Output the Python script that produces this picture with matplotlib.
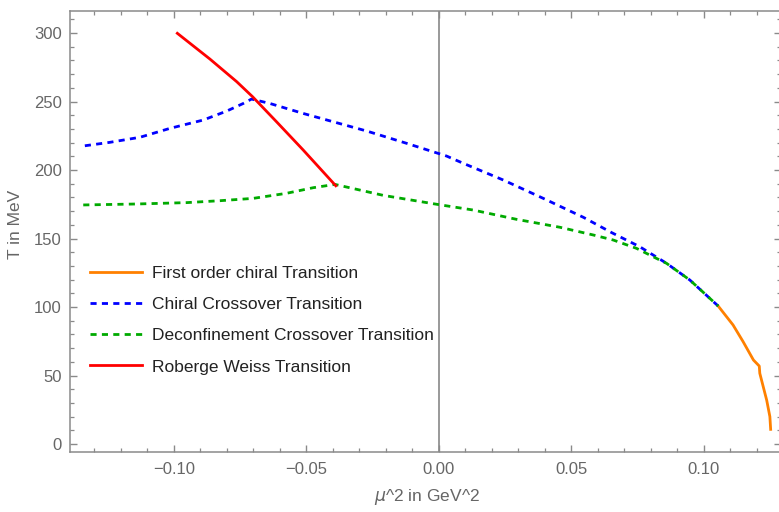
import numpy as np
import matplotlib
matplotlib.use('Agg')
import matplotlib.pyplot as plt
from matplotlib.ticker import MultipleLocator, FuncFormatter

plt.rcParams['font.family'] = ['Liberation Sans', 'DejaVu Sans']

# data (mu^2 in GeV^2, T in MeV)
first_x = [0.1054, 0.111, 0.1148, 0.1187, 0.1209, 0.1211, 0.1237, 0.1249, 0.1252]
first_T = [100.7, 86.9, 74.7, 61.3, 56.9, 51.6, 32.0, 20.0, 10.7]

chiral_x = [-0.1336, -0.1242, -0.1128, -0.1015, -0.0889, -0.0801, -0.0738, -0.0707, -0.0638,
            -0.0512, -0.0348, -0.0273, -0.0122, 0.0029, 0.0092, 0.0243, 0.0394, 0.0545,
            0.0652, 0.0758, 0.0859, 0.0947, 0.1054]
chiral_T = [217.7, 220.2, 223.9, 230.4, 236.5, 243, 248.6, 251.8, 248.6,
            241.3, 232.5, 228.5, 219.5, 210.2, 204.9, 192.7, 179.3, 165.5,
            154.3, 144, 131.9, 119.7, 100.7]

deconf_x = [-0.1342, -0.1141, -0.0952, -0.0826, -0.0701, -0.0575, -0.0474, -0.0392, -0.021,
            -0.0015, 0.0129, 0.0293, 0.0457, 0.0582, 0.0658, 0.0746, 0.0821, 0.0859,
            0.0947, 0.1054]
deconf_T = [174.5, 175.2, 176.2, 177.6, 179.3, 183, 187.1, 189.5, 181.5,
            175.2, 170.8, 164, 158.2, 152.6, 148.9, 142.8, 135.5, 131.9,
            119.7, 100.7]

rw_x = [-0.0987, -0.0864, -0.0763, -0.0703, -0.0613, -0.0512, -0.0389]
rw_T = [299.8, 281.0, 264.5, 253.5, 235.3, 214.6, 188.5]

labels = ["First order chiral Transition", "Chiral Crossover Transition",
          "Deconfinement Crossover Transition", "Roberge Weiss Transition"]

W, H = 779, 512
fig = plt.figure(figsize=(W/100, H/100), dpi=100)
ax = fig.add_axes([70/W, (H-452)/H, (781-70)/W, (452-10.7)/H])

gray = '#8a8a8a'
tcol = '#666666'

ax.axvline(0, color='#999999', lw=1.4, zorder=1)

ax.plot(first_x, first_T, color='#ff8000', lw=2, label=labels[0], zorder=3)
ax.plot(chiral_x, chiral_T, color='#0000ff', lw=2, dashes=(2.2, 1.9), label=labels[1], zorder=3)
ax.plot(deconf_x, deconf_T, color='#00aa00', lw=2, dashes=(2.2, 1.9), label=labels[2], zorder=3)
ax.plot(rw_x, rw_T, color='#ff0000', lw=2, label=labels[3], zorder=3)

ax.set_xlim(-0.1392, 0.1291)
ax.set_ylim(-5.84, 316.3)

ax.xaxis.set_major_locator(MultipleLocator(0.05))
ax.xaxis.set_minor_locator(MultipleLocator(0.01))
ax.yaxis.set_major_locator(MultipleLocator(50))
ax.yaxis.set_minor_locator(MultipleLocator(10))
ax.xaxis.set_major_formatter(FuncFormatter(lambda v, p: ('%.2f' % v).replace('-', '\u2212') if abs(v) > 1e-9 else '0.00'))
ax.yaxis.set_major_formatter(FuncFormatter(lambda v, p: '%d' % v))

for s in ax.spines.values():
    s.set_color(gray)
    s.set_linewidth(1.1)
ax.tick_params(which='both', direction='in', color=gray, top=True, right=True,
               labelsize=12, labelcolor=tcol)
ax.tick_params(which='major', length=5, width=1)
ax.tick_params(which='minor', length=3, width=0.9)
ax.tick_params(axis='x', pad=7)
ax.tick_params(axis='y', pad=6)

fig.text(15/W, 1-224/H, 'T in MeV', rotation=90, ha='center', va='center', fontsize=12.5, color=tcol)
fig.text(427/W, 1-497/H, r'$\mu$^2 in GeV^2', ha='center', va='center', fontsize=12.5, color=tcol)

leg = ax.legend(loc='upper left', bbox_to_anchor=(90/W, 1-266/H), bbox_transform=fig.transFigure,
                frameon=False, fontsize=12.5, handlelength=3.0, handletextpad=0.57,
                labelspacing=0.92, borderpad=0, borderaxespad=0)
for t in leg.get_texts():
    t.set_color('#222222')

fig.savefig('out.png', dpi=100)
